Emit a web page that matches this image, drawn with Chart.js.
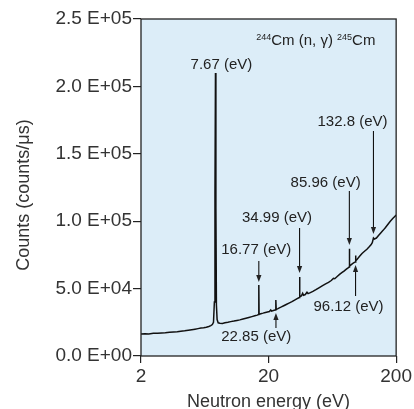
<!DOCTYPE html>
<html>
<head>
<meta charset="utf-8">
<script src="https://cdn.jsdelivr.net/npm/chart.js@4.4.1/dist/chart.umd.min.js"></script>
<style>
  html, body { margin: 0; padding: 0; background: #fff; }
  canvas { display: block; }
</style>
</head>
<body>
<canvas id="grafica" width="414" height="409"></canvas>
<script>
// Espectro: energía (eV) y cuentas (counts/us)
const energia = [
  2.0, 2.15, 2.3, 2.5, 2.7, 2.9, 3.1, 3.35, 3.6, 3.85, 4.1, 4.4, 4.7, 5.0, 5.3, 5.6, 5.9, 6.2, 6.5, 6.8,
  7.05, 7.25, 7.4, 7.52, 7.6, 7.67, 7.73, 7.8, 7.9, 8.05, 8.3, 8.7, 9.1, 9.6, 10.1, 10.7,
  11.3, 11.9, 12.6, 13.3, 14.0, 14.8, 15.6, 16.3, 16.7, 16.77, 16.85, 17.4, 18.1, 18.9, 19.6, 20.3,
  20.8, 21.1, 21.8, 22.5, 22.75, 22.85, 22.95, 23.5, 24.3, 25.2, 26.3, 27.5, 28.9, 30.5, 32.0, 33.5,
  34.8, 34.99, 35.2, 36.2, 37.0, 37.6, 38.8, 40.0, 40.8, 42.5, 44.5, 47.0, 50.0, 53.0, 56.0, 59.0,
  62.0, 64.5, 66.0, 69.0, 72.0, 75.0, 78.0, 81.0, 84.0, 85.6, 85.96, 86.4, 88.5, 91.0, 93.5, 95.6,
  96.12, 96.7, 99.0, 103.0, 108.0, 113.0, 118.0, 123.0, 127.0, 130.0, 132.8, 135.0, 140.0, 146.0,
  152.0, 158.0, 165.0, 172.0, 180.0, 188.0, 195.0, 200.0
];
const cuentas = [
  16300, 16500, 16400, 16800, 16900, 17100, 17200, 17600, 17800, 18000, 18400, 18700, 19100, 19500, 19900, 20300, 20700, 21000, 21400, 21900,
  22500, 23300, 25000, 40000, 120000, 210000, 110000, 38000, 27000, 24600, 24300, 24200, 24600, 25000, 25500, 25900,
  26400, 26800, 27400, 28000, 28600, 29200, 29800, 30300, 30700, 52700, 31000, 31400, 31800, 32300, 32700, 33000,
  34200, 33300, 33700, 34100, 34300, 41500, 34600, 35000, 35700, 36400, 37300, 38200, 39200, 40300, 41400, 42500,
  43400, 58600, 44000, 44600, 46500, 45000, 45600, 47300, 46300, 47000, 47900, 49200, 50800, 52200, 53500, 54600,
  56000, 57600, 57300, 59000, 60500, 61800, 63000, 64300, 65400, 66000, 79600, 66700, 67600, 68500, 69200, 69800,
  74500, 70600, 71800, 73800, 76000, 77700, 79200, 81000, 82500, 84000, 87500, 86800, 87500, 89500,
  91500, 93200, 95300, 97500, 100000, 102000, 103500, 104500
];

const xTicks = [2, 20, 200];
const yTicks = [0, 50000, 100000, 150000, 200000, 250000];

// picos marcados: energía del pico, texto, posición del texto y flecha (en unidades de datos)
const picos = [
  { e: 7.67,  texto: '7.67 (eV)',  tx: 8.54, ty: 215900, desde: null,   hasta: null },
  { e: 16.77, texto: '16.77 (eV)', tx: 16.0, ty: 78600,  desde: 70500,  hasta: 54900 },
  { e: 22.85, texto: '22.85 (eV)', tx: 16.0, ty: 14100,  desde: 20800,  hasta: 31900 },
  { e: 34.99, texto: '34.99 (eV)', tx: 23.3, ty: 102400, desde: 95000,  hasta: 61600 },
  { e: 85.96, texto: '85.96 (eV)', tx: 56.0, ty: 128300, desde: 122400, hasta: 82300 },
  { e: 96.12, texto: '96.12 (eV)', tx: 84.6, ty: 36300,  desde: 44500,  hasta: 67500 },
  { e: 132.8, texto: '132.8 (eV)', tx: 91.0, ty: 173600, desde: 166900, hasta: 90500 }
];

const fuente = "'Liberation Sans', Arial, Helvetica, sans-serif";

function formatoE(v) {
  if (v === 0) return '0.0 E+00';
  let exp = Math.floor(Math.log10(v));
  let man = v / Math.pow(10, exp);
  return man.toFixed(1) + ' E+' + String(exp).padStart(2, '0');
}

const puntos = energia.map((e, i) => ({ x: e, y: cuentas[i] }));

const decoracion = {
  id: 'decoracion',
  beforeDraw(chart) {
    const { ctx, chartArea: a } = chart;
    ctx.save();
    ctx.fillStyle = '#dcedf8';
    ctx.fillRect(a.left, a.top, a.right - a.left, a.bottom - a.top);
    ctx.restore();
  },
  afterDraw(chart) {
    const { ctx, chartArea: a } = chart;
    const sx = chart.scales.x, sy = chart.scales.y;
    ctx.save();
    // marco
    ctx.strokeStyle = '#222';
    ctx.lineWidth = 1.3;
    ctx.strokeRect(a.left, a.top, a.right - a.left, a.bottom - a.top);

    // títulos de ejes
    ctx.fillStyle = '#333';
    ctx.font = '18px ' + fuente;
    ctx.textAlign = 'center';
    ctx.textBaseline = 'middle';
    ctx.fillText('Neutron energy (eV)', (a.left + a.right) / 2, 402);
    ctx.save();
    ctx.translate(24, 195);
    ctx.rotate(-Math.PI / 2);
    ctx.fillText('Counts (counts/μs)', 0, 0);
    ctx.restore();

    // etiquetas de picos y flechas
    ctx.fillStyle = '#222';
    ctx.strokeStyle = '#111';
    ctx.font = '15px ' + fuente;
    picos.forEach(p => {
      ctx.fillText(p.texto, sx.getPixelForValue(p.tx), sy.getPixelForValue(p.ty));
      if (p.desde === null) return;
      const x = sx.getPixelForValue(p.e);
      const y0 = sy.getPixelForValue(p.desde);
      const y1 = sy.getPixelForValue(p.hasta);
      const dir = y1 > y0 ? 1 : -1;
      ctx.lineWidth = 1.1;
      ctx.beginPath();
      ctx.moveTo(x, y0);
      ctx.lineTo(x, y1 - dir * 5);
      ctx.stroke();
      ctx.beginPath();
      ctx.moveTo(x, y1);
      ctx.lineTo(x - 2.6, y1 - dir * 7);
      ctx.lineTo(x + 2.6, y1 - dir * 7);
      ctx.closePath();
      ctx.fill();
    });

    // título de la reacción 244Cm(n,γ)245Cm
    const tx = sx.getPixelForValue(46.9), ty = sy.getPixelForValue(234400);
    const piezas = [
      { t: '244', f: '9px ', dy: -5 },
      { t: 'Cm (n, γ) ', f: '15px ', dy: 0 },
      { t: '245', f: '9px ', dy: -5 },
      { t: 'Cm', f: '15px ', dy: 0 }
    ];
    let ancho = 0;
    piezas.forEach(pz => { ctx.font = pz.f + fuente; ancho += ctx.measureText(pz.t).width; });
    let cx = tx - ancho / 2;
    ctx.textAlign = 'left';
    ctx.textBaseline = 'alphabetic';
    piezas.forEach(pz => {
      ctx.font = pz.f + fuente;
      ctx.fillText(pz.t, cx, ty + 5 + pz.dy);
      cx += ctx.measureText(pz.t).width;
    });
    ctx.restore();
  }
};

new Chart(document.getElementById('grafica'), {
  type: 'line',
  data: {
    datasets: [{
      data: puntos,
      borderColor: '#111',
      borderWidth: 1.5,
      pointRadius: 0,
      tension: 0,
      fill: false
    }]
  },
  options: {
    responsive: false,
    animation: false,
    parsing: false,
    layout: { padding: { top: 19, right: 16, left: 0, bottom: 0 } },
    plugins: { legend: { display: false }, tooltip: { enabled: false } },
    scales: {
      x: {
        type: 'logarithmic',
        min: 2,
        max: 200,
        afterBuildTicks: (s) => { s.ticks = xTicks.map(v => ({ value: v })); },
        afterFit: (s) => { s.height = 53; },
        border: { display: false },
        grid: { drawOnChartArea: false, drawTicks: true, tickLength: 7, color: '#222', lineWidth: 1.2 },
        ticks: {
          autoSkip: false,
          maxRotation: 0,
          padding: 2,
          color: '#333',
          font: { size: 19, family: fuente },
          callback: (v) => String(v)
        }
      },
      y: {
        min: 0,
        max: 250000,
        afterBuildTicks: (s) => { s.ticks = yTicks.map(v => ({ value: v })); },
        afterFit: (s) => { s.width = 141; },
        border: { display: false },
        grid: { drawOnChartArea: false, drawTicks: true, tickLength: 8, color: '#222', lineWidth: 1.2 },
        ticks: {
          padding: 1,
          color: '#333',
          font: { size: 19, family: fuente },
          callback: (v) => formatoE(v)
        }
      }
    }
  },
  plugins: [decoracion]
});
</script>
</body>
</html>
